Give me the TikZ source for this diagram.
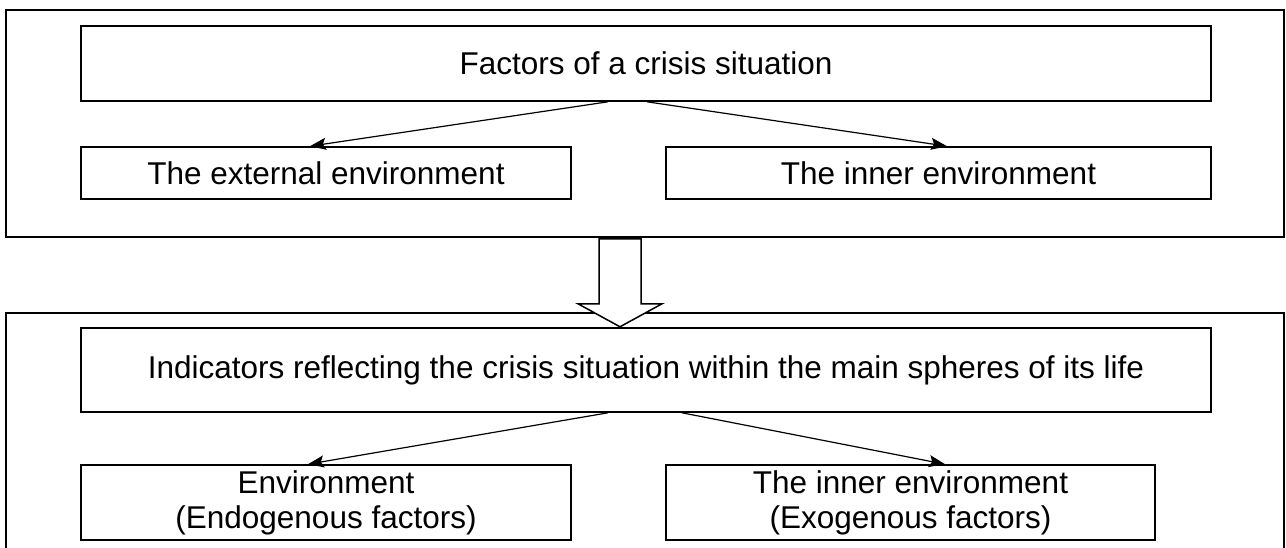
\documentclass[tikz,border=0pt]{standalone}
\usepackage{fontspec}
\setmainfont{Liberation Sans}
\usetikzlibrary{arrows.meta,calc}
\begin{document}
\begin{tikzpicture}[x=1pt,y=-1pt,
  box/.style={draw,line width=1.6pt,rectangle,inner sep=0pt,align=center,
    font=\fontsize{31.5}{35}\selectfont},
  frame/.style={draw,line width=1.6pt,rectangle,inner sep=0pt},
  conn/.style={line width=1.2pt,-{Stealth[length=16pt,width=12pt,inset=3pt]}},
  bigarrow/.style={draw,line width=1.5pt,fill=white,line join=miter}]
\clip (0,0) rectangle (1286,548);
\fill[white] (0,0) rectangle (1286,548);
% outer frames
\node[frame,minimum width=1278pt,minimum height=227pt] (outer1) at (645,123.5) {};
\node[frame,minimum width=1278pt,minimum height=300pt] (outer2) at (645,463) {};
% big arrow between the frames
\coordinate (ba) at (outer1.south -| 620,0);
\draw[bigarrow] ($(ba)+(-21,1)$) -- ($(ba)+(21,1)$) -- ($(ba)+(21,66)$) -- ($(ba)+(42,66)$)
  -- ($(ba)+(0,89)$) -- ($(ba)+(-42,66)$) -- ($(ba)+(-21,66)$) -- cycle;
% upper group
\node[box,minimum width=1130pt,minimum height=75pt] (title) at (646,63.5) {Factors of a crisis situation};
\node[box,minimum width=490pt,minimum height=52pt] (ext) at (326,173) {The external environment};
\node[box,minimum width=545pt,minimum height=52pt] (inn) at (938.5,173) {The inner environment};
\draw[conn] ([xshift=-38pt]title.south) -- ([xshift=-16pt]ext.north);
\draw[conn] ([xshift=1pt]title.south) -- ([xshift=8.5pt]inn.north);
% lower group
\node[box,minimum width=1130pt,minimum height=84pt] (ind) at (646,370) {Indicators reflecting the crisis situation within the main spheres of its life};
\node[box,minimum width=490pt,minimum height=75pt] (endo) at (326,502.5) {Environment\\(Endogenous factors)};
\node[box,minimum width=489pt,minimum height=75pt] (exo) at (910.5,502.5) {The inner environment\\(Exogenous factors)};
\draw[conn] ([xshift=-38pt]ind.south) -- ([xshift=-18pt]endo.north);
\draw[conn] ([xshift=36pt]ind.south) -- ([xshift=34.5pt]exo.north);
\end{tikzpicture}
\end{document}
